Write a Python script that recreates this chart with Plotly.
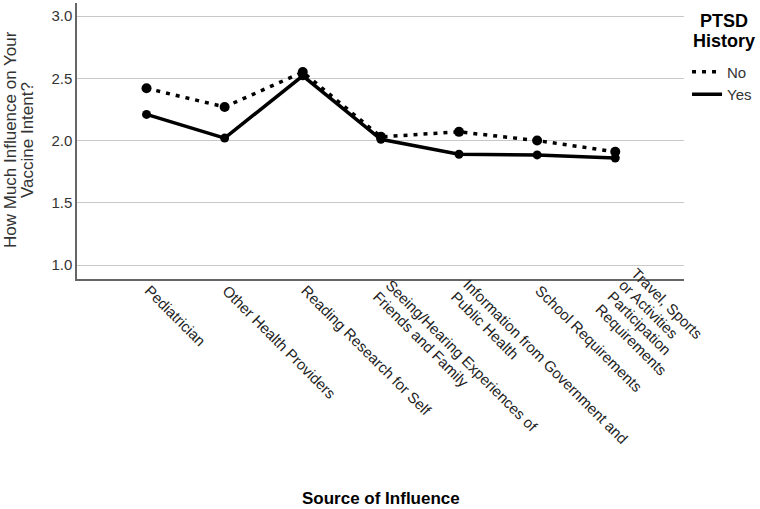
import math
import plotly.graph_objects as go

categories = [
    "Pediatrician",
    "Other Health Providers",
    "Reading Research for Self",
    "Seeing/Hearing Experiences of<br>Friends and Family",
    "Information from Government and<br>Public Health",
    "School Requirements",
    "Travel, Sports<br>or Activities<br>Participation<br>Requirements",
]
no_values = [2.42, 2.27, 2.55, 2.03, 2.07, 2.00, 1.91]
yes_values = [2.21, 2.02, 2.52, 2.01, 1.89, 1.885, 1.86]
y_ticks = [1.0, 1.5, 2.0, 2.5, 3.0]
legend_title = ["PTSD", "History"]
y_title = ["How Much Influence on Your", "Vaccine Intent?"]
x_title = "Source of Influence"

FONT = "Arial, Liberation Sans, sans-serif"
x_idx = list(range(len(categories)))

fig = go.Figure()
fig.add_trace(go.Scatter(
    x=x_idx, y=no_values, name="No", mode="lines+markers", showlegend=False,
    line=dict(color="black", width=3.5, dash="4px,6px"),
    marker=dict(color="black", size=10, symbol="circle"),
))
fig.add_trace(go.Scatter(
    x=x_idx, y=yes_values, name="Yes", mode="lines+markers", showlegend=False,
    line=dict(color="black", width=3.5),
    marker=dict(color="black", size=9, symbol="circle"),
))
# legend entries (line only, as in the reference legend)
fig.add_trace(go.Scatter(x=[None], y=[None], name="No", mode="lines",
                         line=dict(color="black", width=3.5, dash="4px,6px")))
fig.add_trace(go.Scatter(x=[None], y=[None], name="Yes", mode="lines",
                         line=dict(color="black", width=3.5)))

annotations = []

# rotated category labels (45 deg), block centred on tick, lines left-aligned
TICK_FS = 15
LINE_SP = 17.0
BOX_H = 1.117 * TICK_FS + 2
c45 = math.sqrt(0.5)
for i, lab in enumerate(categories):
    lines = lab.split("<br>")
    n = len(lines)
    for j, ln in enumerate(lines):
        d = (j - (n - 1) / 2) * LINE_SP
        mlx = -1 - d * c45          # relative to tick (px)
        mly = 7 + d * c45           # below axis line (px)
        tlx = mlx - 0.354 * BOX_H
        tly = mly - 0.354 * BOX_H
        annotations.append(dict(
            text=ln, xref="x", yref="paper", x=i, y=0,
            xanchor="left", yanchor="top", xshift=tlx, yshift=-tly,
            textangle=45, showarrow=False,
            font=dict(size=TICK_FS, color="#222222", family=FONT),
        ))

# y-axis title (two lines, tight spacing)
for k, (ln, xs) in enumerate(zip(y_title, [-67, -50])):
    annotations.append(dict(
        text=ln, xref="paper", yref="paper", x=0, y=0.5,
        xanchor="center", yanchor="middle", xshift=xs, yshift=1,
        textangle=-90, showarrow=False, borderpad=0,
        font=dict(size=17, color="#333333", family=FONT),
    ))

# x-axis title
annotations.append(dict(
    text=f"<b>{x_title}</b>", xref="paper", yref="paper", x=0.5, y=0,
    xanchor="center", yanchor="middle", yshift=-219, showarrow=False,
    font=dict(size=17, color="black", family=FONT),
))

# legend title
for ln, ys in zip(legend_title, [-17.5, -38]):
    annotations.append(dict(
        text=f"<b>{ln}</b>", xref="paper", yref="paper", x=1, y=1,
        xanchor="center", yanchor="middle", xshift=39.5, yshift=ys,
        showarrow=False, borderpad=0,
        font=dict(size=18, color="black", family=FONT),
    ))

fig.update_layout(
    width=760, height=509,
    margin=dict(l=77, r=74, t=3, b=230),
    paper_bgcolor="white", plot_bgcolor="white",
    font=dict(family=FONT, color="#222222"),
    showlegend=True,
    legend=dict(x=1.005, y=0.81, xanchor="left", yanchor="top",
                font=dict(size=15, color="#333333"),
                tracegroupgap=0, bgcolor="rgba(0,0,0,0)"),
    xaxis=dict(
        range=[-0.89, 6.88],
        tickmode="array", tickvals=x_idx, showticklabels=False,
        showgrid=False, zeroline=False,
        showline=True, linecolor="#666666", linewidth=1.5,
        ticks="", automargin=False,
    ),
    yaxis=dict(
        range=[0.888, 3.105],
        tickmode="array", tickvals=y_ticks, ticktext=[f"{v:.1f}" for v in y_ticks],
        tickfont=dict(size=15, color="#333333"),
        showgrid=True, gridcolor="#c8c8c8", gridwidth=1,
        zeroline=False, showline=True, linecolor="#666666", linewidth=1.5,
        ticks="", automargin=False,
    ),
    annotations=annotations,
)

fig.write_html("out.html", config={"displayModeBar": False},
               post_script="document.body.style.margin='0px';")
